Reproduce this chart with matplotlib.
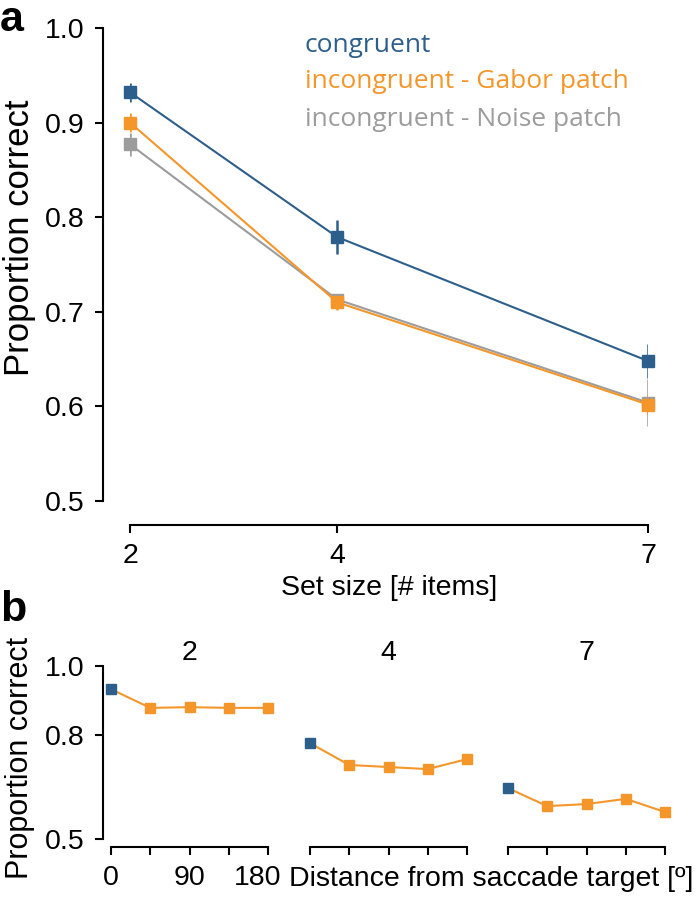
import numpy as np
import matplotlib
matplotlib.use('Agg')
import matplotlib.pyplot as plt
from matplotlib.transforms import ScaledTranslation

# panel a data
set_sizes = [2, 4, 7]
congruent = [0.932, 0.779, 0.648]
congruent_err = [0.010, 0.018, 0.018]
gabor = [0.900, 0.710, 0.602]
gabor_err = [0.010, 0.008, 0.010]
noise = [0.877, 0.713, 0.604]
noise_err = [0.012, 0.006, 0.025]

# panel b data
distances = [0, 45, 90, 135, 180]
b_sizes = ['2', '4', '7']
b_congruent = [0.933, 0.777, 0.647]
b_congruent_err = [0.006, 0.008, 0.008]
b_gabor = [[0.879, 0.881, 0.879, 0.879],
           [0.714, 0.708, 0.702, 0.731],
           [0.595, 0.601, 0.616, 0.578]]
b_gabor_err = [[0.006, 0.004, 0.004, 0.004],
               [0.004, 0.004, 0.004, 0.004],
               [0.004, 0.008, 0.008, 0.004]]

blue = '#2d5f8c'
orange = '#f5962b'
grey = '#9c9c9c'

plt.rcParams['font.family'] = ['Liberation Sans', 'DejaVu Sans']
W, H = 700, 898
fig = plt.figure(figsize=(7, 8.98), dpi=100)

def box(x0, y0, x1, y1):
    return (x0 / W, 1 - y1 / H, (x1 - x0) / W, (y1 - y0) / H)

px = 72 / 100.

ax = fig.add_axes(box(130, 28, 648, 501))
for vals, err, c in [(congruent, congruent_err, blue), (gabor, gabor_err, orange), (noise, noise_err, grey)][::-1]:
    ax.errorbar(set_sizes, vals, yerr=err, color=c, lw=1.5, elinewidth=1.8,
                marker='s', ms=8, capsize=0)
ax.set_xlim(2, 7)
ax.set_ylim(0.5, 1.0)
ax.set_xticks(set_sizes)
ax.set_yticks([0.5, 0.6, 0.7, 0.8, 0.9, 1.0])
ax.set_yticklabels(['0.5', '0.6', '0.7', '0.8', '0.9', '1.0'])
for s in ['top', 'right']:
    ax.spines[s].set_visible(False)
ax.spines['left'].set_position(('outward', 27 * px))
ax.spines['bottom'].set_position(('outward', 24 * px))
for s in ['left', 'bottom']:
    ax.spines[s].set_linewidth(1.5)
ax.tick_params(width=1.5, length=6, labelsize=20.5, pad=7)
ax.set_xlabel('Set size [# items]', fontsize=20.5, labelpad=4)
for line in ax.lines:
    line.set_clip_on(False)

for i, (t, c) in enumerate([('congruent', blue), ('incongruent - Gabor patch', orange),
                            ('incongruent - Noise patch', grey)]):
    fig.text(305 / W, 1 - (45 + 37 * i) / H, t, color=c, fontsize=19,
             family=['Open Sans', 'DejaVu Sans'], va='center')

fig.text(20 / W, 1 - 238 / H, 'Proportion correct', rotation=90, fontsize=25,
         ha='center', va='center')
fig.text(0, 1 - 0 / H, 'a', fontsize=31, fontweight='bold', va='top')
fig.text(0, 1 - 590 / H, 'b', fontsize=31, fontweight='bold', va='top')

# panel b
lefts = [111, 310, 508]
for k in range(3):
    bx = fig.add_axes(box(lefts[k], 666, lefts[k] + 157, 839))
    bx.plot(distances, [b_congruent[k]] + b_gabor[k], color=orange, lw=1.5)
    bx.errorbar(distances[1:], b_gabor[k], yerr=b_gabor_err[k], color=orange,
                ls='none', marker='s', ms=7, elinewidth=1.5, capsize=0)
    bx.errorbar(distances[:1], b_congruent[k:k + 1], yerr=b_congruent_err[k:k + 1],
                color=blue, ls='none', marker='s', ms=7, elinewidth=1.5, capsize=0)
    bx.set_xlim(0, 180)
    bx.set_ylim(0.5, 1.0)
    bx.set_xticks(distances)
    bx.set_xticklabels(['0', '', '90', '', '180'] if k == 0 else [''] * 5)
    for s in ['top', 'right']:
        bx.spines[s].set_visible(False)
    bx.spines['bottom'].set_position(('outward', 8 * px))
    bx.spines['bottom'].set_linewidth(1.5)
    if k == 0:
        bx.spines['left'].set_position(('outward', 8 * px))
        bx.spines['left'].set_linewidth(1.5)
        bx.set_yticks([0.5, 0.8, 1.0])
        bx.set_yticklabels(['0.5', '0.8', '1.0'])
    else:
        bx.spines['left'].set_visible(False)
        bx.set_yticks([])
    bx.tick_params(width=1.5, length=6, labelsize=20.5, pad=7)
    bx.set_title(b_sizes[k], fontsize=20.5, pad=3)
    for line in bx.lines:
        line.set_clip_on(False)
    if k == 0:
        lbl = bx.get_xticklabels()[4]
        lbl.set_transform(lbl.get_transform() + ScaledTranslation(-0.1, 0, fig.dpi_scale_trans))

fig.text(289 / W, 1 - 879 / H, 'Distance from saccade target [º]', fontsize=20.5, va='center')
fig.text(20 / W, 1 - 758 / H, 'Proportion correct', rotation=90, fontsize=22,
         ha='center', va='center')

fig.savefig('out.png', dpi=100)
